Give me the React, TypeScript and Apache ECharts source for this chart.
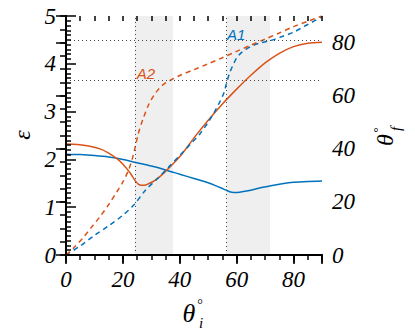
import React, { useEffect, useRef } from "react";
import * as echarts from "echarts";

// A1 (blue) – ε versus θi
const a1EpsTheta = [0, 5, 10, 15, 20, 25, 30, 35, 40, 45, 50, 53, 55, 56.4, 57.5, 59, 61, 64, 68, 72, 76, 80, 85, 90];
const a1Eps = [2.11, 2.1, 2.08, 2.05, 2.0, 1.93, 1.86, 1.78, 1.69, 1.6, 1.51, 1.44, 1.39, 1.355, 1.325, 1.31, 1.315, 1.345, 1.4, 1.45, 1.49, 1.52, 1.54, 1.55];

// A2 (red) – ε versus θi
const a2EpsTheta = [0, 4, 8, 12, 15, 18, 20, 22, 23.5, 24.5, 25.5, 26.5, 27.5, 29, 31, 33, 35, 38, 41, 45, 50, 55, 60, 65, 70, 75, 80, 85, 90];
const a2Eps = [2.32, 2.31, 2.28, 2.22, 2.13, 2.01, 1.9, 1.76, 1.63, 1.54, 1.48, 1.46, 1.46, 1.49, 1.55, 1.64, 1.75, 1.93, 2.13, 2.45, 2.82, 3.16, 3.47, 3.76, 4.02, 4.22, 4.36, 4.43, 4.45];

// A1 (blue dashed) – θf versus θi
const a1ThfTheta = [0, 5, 10, 15, 20, 24, 28, 32, 36, 40, 44, 47, 50, 52, 54, 55.5, 56.5, 57.5, 58.5, 60, 62, 65, 68, 72, 76, 80, 85, 90];
const a1Thf = [0, 3.4, 7.4, 11, 15, 19, 24.5, 28.6, 33, 37.5, 42, 45.5, 50, 53.5, 57.5, 61, 65, 68.5, 71, 74.2, 76.5, 78.5, 79.8, 80.8, 82.3, 83.9, 86.8, 89.7];

// A2 (red dashed) – θf versus θi
const a2ThfTheta = [0, 3, 6, 9, 12, 15, 18, 20, 22, 23.5, 24.5, 25.5, 27, 29, 31, 33, 35, 37, 40, 45, 50, 55, 60, 65, 70, 75, 80, 85, 90];
const a2Thf = [0, 3, 6.5, 10.5, 14.5, 19, 24, 27.5, 32, 37, 41.5, 46, 51, 56.5, 60.3, 63, 64.8, 66, 67.6, 69.8, 72, 74.3, 76.7, 79, 81.3, 83.6, 86, 88, 90];

// Reference markers
const shadedRanges = [[24.2, 37.6], [56.4, 71.7]];
const verticalRefs = [24.2, 56.4];
const horizontalRefs = [80.7, 65.9];

const BLUE = "#0072BD";
const RED = "#D95319";
const SERIF = "'Liberation Serif', 'Times New Roman', serif";

const zip = (xs: number[], ys: number[]) => xs.map((x, i) => [x, ys[i]]);

export default function App() {
  const ref = useRef<HTMLDivElement>(null);
  useEffect(() => {
    if (!ref.current) return;
    const chart = echarts.init(ref.current, undefined, { renderer: "svg" });
    const axisLine = { show: true, lineStyle: { color: "#000", width: 2 } };
    const label = { color: "#000", fontFamily: SERIF, fontStyle: "italic", fontSize: 23 };
    const baseX = { type: "value", min: 0, max: 90, splitLine: { show: false }, z: 10 };
    const baseThf = { type: "value", min: 0, max: 90, splitLine: { show: false }, z: 10 };
    chart.setOption({
      animation: false,
      grid: { left: 66, right: 93, top: 16, bottom: 77, containLabel: false },
      xAxis: [
        {
          ...baseX, position: "bottom", interval: 20, axisLine,
          axisTick: { show: true, length: 9, inside: false, lineStyle: { color: "#000", width: 1.5 } },
          axisLabel: { ...label, margin: 13, formatter: (v: number) => (v % 20 === 0 ? String(v) : "") },
        },
        {
          ...baseX, position: "bottom", interval: 5, axisLine: { show: false },
          axisTick: { show: true, length: 5, inside: false, lineStyle: { color: "#000", width: 1.5 } },
          axisLabel: { show: false },
        },
        {
          ...baseX, position: "top", interval: 20, axisLine,
          axisTick: { show: true, length: 8, inside: true, lineStyle: { color: "#000", width: 1.5 } },
          axisLabel: { show: false },
        },
        {
          ...baseX, position: "top", interval: 5, axisLine: { show: false },
          axisTick: { show: true, length: 5, inside: true, lineStyle: { color: "#000", width: 1.5 } },
          axisLabel: { show: false },
        },
      ],
      yAxis: [
        {
          type: "value", min: 0, max: 5, interval: 1, position: "left", z: 10,
          splitLine: { show: false }, axisLine,
          axisTick: { show: true, length: 10, inside: true, lineStyle: { color: "#000", width: 1.5 } },
          minorTick: { show: true, splitNumber: 10, length: 5, lineStyle: { color: "#000", width: 1.5 } },
          axisLabel: { ...label, margin: 10 },
        },
        {
          ...baseThf, position: "right", interval: 20, axisLine,
          axisTick: { show: true, length: 10, inside: true, lineStyle: { color: "#000", width: 1.5 } },
          axisLabel: { ...label, margin: 10, formatter: (v: number) => (v % 20 === 0 ? String(v) : "") },
        },
        {
          ...baseThf, position: "right", interval: 5, axisLine: { show: false },
          axisTick: { show: true, length: 6, inside: true, lineStyle: { color: "#000", width: 1.5 } },
          axisLabel: { show: false },
        },
      ],
      series: [
        {
          type: "line", name: "A1 eps", xAxisIndex: 0, yAxisIndex: 0, showSymbol: false, smooth: 0.3,
          data: zip(a1EpsTheta, a1Eps), lineStyle: { color: BLUE, width: 1.5 },
          markArea: {
            silent: true,
            itemStyle: { color: "#efefef", borderWidth: 0 },
            data: shadedRanges.map(([a, b]) => [{ xAxis: a }, { xAxis: b }]),
          },
        },
        {
          type: "line", name: "A2 eps", xAxisIndex: 0, yAxisIndex: 0, showSymbol: false, smooth: 0.3,
          data: zip(a2EpsTheta, a2Eps), lineStyle: { color: RED, width: 1.5 },
        },
        {
          type: "line", name: "A1 thf", xAxisIndex: 0, yAxisIndex: 1, showSymbol: false, smooth: 0.3,
          data: zip(a1ThfTheta, a1Thf), lineStyle: { color: BLUE, width: 1.5, type: [5, 4] },
          markLine: {
            silent: true, symbol: "none", label: { show: false },
            lineStyle: { color: "#444", width: 1, type: [1, 3] },
            data: [
              ...horizontalRefs.map((v) => ({ yAxis: v })),
              ...verticalRefs.map((v) => ({ xAxis: v })),
            ],
          },
          markPoint: {
            symbol: "circle", symbolSize: 0, silent: true,
            label: { show: true, position: "inside", formatter: "A1", color: BLUE, fontFamily: "'Liberation Sans', sans-serif", fontStyle: "italic", fontSize: 15 },
            data: [{ coord: [59.8, 83.2] }],
          },
        },
        {
          type: "line", name: "A2 thf", xAxisIndex: 0, yAxisIndex: 1, showSymbol: false, smooth: 0.3,
          data: zip(a2ThfTheta, a2Thf), lineStyle: { color: RED, width: 1.5, type: [5, 4] },
          markPoint: {
            symbol: "circle", symbolSize: 0, silent: true,
            label: { show: true, position: "inside", formatter: "A2", color: RED, fontFamily: "'Liberation Sans', sans-serif", fontStyle: "italic", fontSize: 15 },
            data: [{ coord: [28.1, 68.3] }],
          },
        },
      ],
      graphic: [
        {
          type: "text", x: 22, y: 135, rotation: Math.PI / 2,
          style: { text: "ε", fontFamily: SERIF, fontStyle: "italic", fontSize: 24, fill: "#000", textAlign: "center", textVerticalAlign: "middle" },
        },
        {
          type: "group", x: 189, y: 313,
          children: [
            { type: "text", x: 0, y: 0, style: { text: "θ", fontFamily: SERIF, fontStyle: "italic", fontSize: 26, fill: "#000", textAlign: "center", textVerticalAlign: "middle" } },
            { type: "text", x: 11, y: -9, style: { text: "°", fontFamily: SERIF, fontSize: 14, fill: "#000", textAlign: "center", textVerticalAlign: "middle" } },
            { type: "text", x: 12, y: 10, style: { text: "i", fontFamily: SERIF, fontStyle: "italic", fontSize: 15, fill: "#000", textAlign: "center", textVerticalAlign: "middle" } },
          ],
        },
        {
          type: "group", x: 385, y: 140, rotation: Math.PI / 2,
          children: [
            { type: "text", x: 0, y: 0, style: { text: "θ", fontFamily: SERIF, fontStyle: "italic", fontSize: 24, fill: "#000", textAlign: "center", textVerticalAlign: "middle" } },
            { type: "text", x: 10, y: -8, style: { text: "°", fontFamily: SERIF, fontSize: 13, fill: "#000", textAlign: "center", textVerticalAlign: "middle" } },
            { type: "text", x: 11, y: 11, style: { text: "f", fontFamily: SERIF, fontStyle: "italic", fontSize: 15, fill: "#000", textAlign: "center", textVerticalAlign: "middle" } },
          ],
        },
      ],
    });
    return () => chart.dispose();
  }, []);
  return (
    <div
      ref={ref}
      style={{ position: "fixed", left: 0, top: 0, width: 415, height: 332, background: "#fff" }}
    />
  );
}
